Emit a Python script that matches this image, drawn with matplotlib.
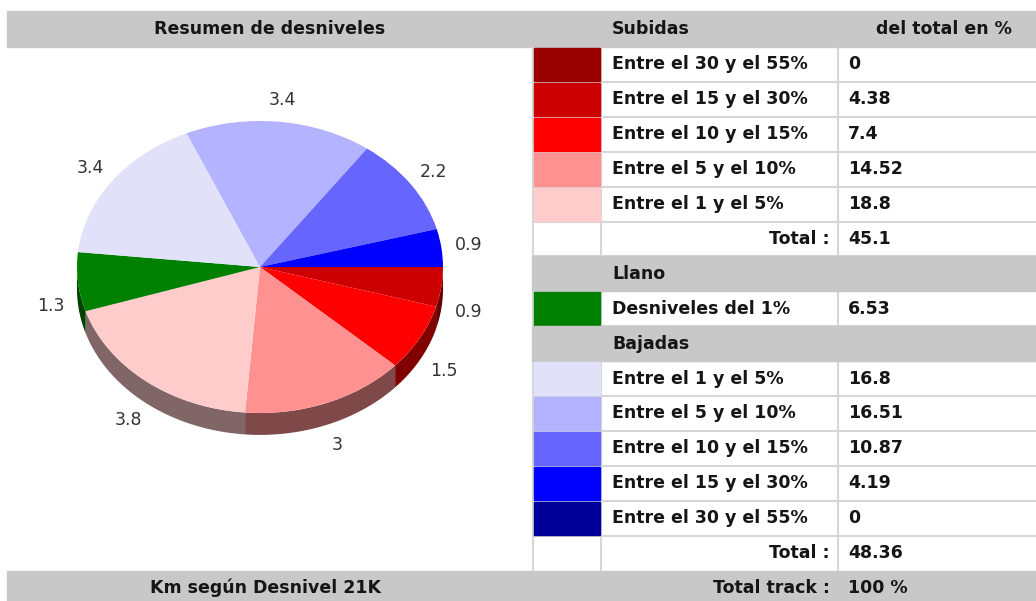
import numpy as np
import matplotlib.pyplot as plt
from matplotlib.colors import to_rgb
from matplotlib.patches import Rectangle

# datos de la tabla
subidas_labels = ["Entre el 30 y el 55%", "Entre el 15 y el 30%", "Entre el 10 y el 15%",
                  "Entre el 5 y el 10%", "Entre el 1 y el 5%"]
subidas_pct = [0, 4.38, 7.4, 14.52, 18.8]
subidas_km = [0, 0.9, 1.5, 3, 3.8]
subidas_colors = ["#990000", "#cc0000", "#ff0000", "#ff9191", "#ffcccc"]
total_subidas = 45.1

llano_label = "Desniveles del 1%"
llano_pct = 6.53
llano_km = 1.3
llano_color = "#008000"

bajadas_labels = ["Entre el 1 y el 5%", "Entre el 5 y el 10%", "Entre el 10 y el 15%",
                  "Entre el 15 y el 30%", "Entre el 30 y el 55%"]
bajadas_pct = [16.8, 16.51, 10.87, 4.19, 0]
bajadas_km = [3.4, 3.4, 2.2, 0.9, 0]
bajadas_colors = ["#e1e1f9", "#b3b3ff", "#6666ff", "#0000ff", "#000099"]
total_bajadas = 48.36
total_track = "100 %"

W, H = 1036, 601
GRAY = "#c8c8c8"
LINE = "#d6d6d6"
TXT = "#151515"

fig = plt.figure(figsize=(W / 100, H / 100), dpi=100)

# capa de la tabla, en pixeles
tab = fig.add_axes([0, 0, 1, 1])
tab.set_xlim(0, W)
tab.set_ylim(H, 0)
tab.axis("off")

tfont = dict(fontsize=12.5, fontweight="bold", color=TXT, family="DejaVu Sans")

# cabecera
tab.add_patch(Rectangle((7, 11), W - 7, 36, color=GRAY, zorder=1))
tab.text(270, 29, "Resumen de desniveles", ha="center", va="center", zorder=3, **tfont)
tab.text(612, 29, "Subidas", ha="left", va="center", zorder=3, **tfont)
tab.text(1012, 29, "del total en %", ha="right", va="center", zorder=3, **tfont)

rows = []
for lab, v, c in zip(subidas_labels, subidas_pct, subidas_colors):
    rows.append(("item", lab, v, c))
rows.append(("total", "Total :", total_subidas, None))
rows.append(("section", "Llano", None, None))
rows.append(("item", llano_label, llano_pct, llano_color))
rows.append(("section", "Bajadas", None, None))
for lab, v, c in zip(bajadas_labels, bajadas_pct, bajadas_colors):
    rows.append(("item", lab, v, c))
rows.append(("total", "Total :", total_bajadas, None))

x_tab, x_c1, x_c2 = 533, 601, 838
y0, rh = 47, 34.9
y_end = y0 + rh * len(rows)

# rejilla
tab.vlines([x_tab, x_c1, x_c2], y0, y_end, color=LINE, lw=1.5, zorder=1)
tab.hlines([y0 + rh * k for k in range(1, len(rows))], x_tab, W, color=LINE, lw=1.5, zorder=1)

for k, (kind, lab, v, c) in enumerate(rows):
    top = y0 + rh * k
    yc = top + rh / 2
    if kind == "section":
        tab.add_patch(Rectangle((x_tab - 1, top), W - x_tab + 1, rh, color=GRAY, zorder=2))
        tab.text(612, yc, lab, ha="left", va="center", zorder=3, **tfont)
        continue
    if kind == "item":
        tab.add_patch(Rectangle((x_tab + 1, top + 1), x_c1 - x_tab - 2, rh - 2, color=c, zorder=2))
        tab.text(612, yc, lab, ha="left", va="center", zorder=3, **tfont)
    else:
        tab.text(830, yc, lab, ha="right", va="center", zorder=3, **tfont)
    tab.text(848, yc, f"{v:g}", ha="left", va="center", zorder=3, **tfont)

# barra inferior
tab.add_patch(Rectangle((7, y_end), W - 7, H - y_end, color=GRAY, zorder=1))
yb = y_end + (H - y_end) / 2 + 2
tab.text(265, yb, "Km según Desnivel 21K", ha="center", va="center", zorder=3, **tfont)
tab.text(830, yb, "Total track :", ha="right", va="center", zorder=3, **tfont)
tab.text(848, yb, total_track, ha="left", va="center", zorder=3, **tfont)

# tarta con un poco de relieve
pct = subidas_pct + [llano_pct] + bajadas_pct
km = subidas_km + [llano_km] + bajadas_km
cols = subidas_colors + [llano_color] + bajadas_colors
keep = [i for i, v in enumerate(pct) if v > 0]
pct = [pct[i] for i in keep]
km = [km[i] for i in keep]
cols = [cols[i] for i in keep]

rx, ry = 183, 146
cx, cy = 260, H - 267
pax = fig.add_axes([(cx - 1.3 * rx) / W, (cy - 1.45 * ry) / H, 2.6 * rx / W, 2.8 * ry / H])
wedges, texts = pax.pie(pct, colors=cols, startangle=0, counterclock=False,
                        labels=[f"{k:g}" for k in km], labeldistance=1.15,
                        wedgeprops=dict(linewidth=0),
                        textprops=dict(fontsize=12.5, color="#333333"))

depth = 0.15
for w, c in zip(wedges, cols):
    a1 = max(w.theta1, -180)
    a2 = min(w.theta2, 0)
    if a2 <= a1:
        continue
    t = np.radians(np.linspace(a1, a2, 80))
    xs = np.concatenate([np.cos(t), np.cos(t[::-1])])
    ys = np.concatenate([np.sin(t), np.sin(t[::-1]) - depth])
    pax.fill(xs, ys, color=tuple(0.5 * np.array(to_rgb(c))), lw=0, zorder=0)

for t in texts:
    x, y = t.get_position()
    if y < 0:
        t.set_position((x, y - depth))
    t.set_ha("center")
    t.set_va("center")

pax.set_aspect("auto")
pax.set_xlim(-1.3, 1.3)
pax.set_ylim(-1.45, 1.35)
pax.axis("off")

fig.savefig("out.png", dpi=100)
